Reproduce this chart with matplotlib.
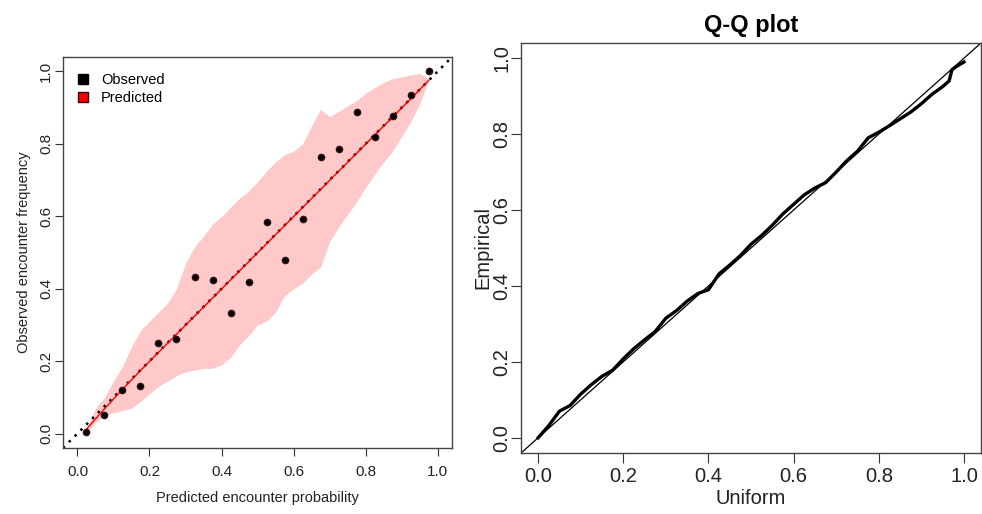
import numpy as np
import matplotlib
matplotlib.use("Agg")
import matplotlib.pyplot as plt
from matplotlib.lines import Line2D

plt.rcParams['font.family'] = ['Liberation Sans', 'DejaVu Sans']

# calibration: binned observed frequency vs predicted probability
bin_mid = [0.025, 0.075, 0.125, 0.175, 0.225, 0.275, 0.325, 0.375, 0.425, 0.475,
           0.525, 0.575, 0.625, 0.675, 0.725, 0.775, 0.825, 0.875, 0.925, 0.975]
observed = [0.003, 0.051, 0.120, 0.131, 0.250, 0.262, 0.432, 0.423, 0.333, 0.419,
            0.583, 0.480, 0.593, 0.763, 0.787, 0.888, 0.820, 0.876, 0.934, 1.000]
predicted = [0.012, 0.068, 0.122, 0.174, 0.224, 0.274, 0.324, 0.374, 0.424, 0.474,
             0.524, 0.574, 0.624, 0.674, 0.724, 0.774, 0.824, 0.874, 0.924, 0.975]

# simulated envelope of predicted frequencies
band_x = [0.025, 0.05, 0.075, 0.1, 0.125, 0.15, 0.175, 0.2, 0.225, 0.25,
          0.275, 0.3, 0.325, 0.35, 0.375, 0.4, 0.425, 0.45, 0.475, 0.5,
          0.525, 0.55, 0.575, 0.6, 0.625, 0.65, 0.675, 0.7, 0.725, 0.75,
          0.775, 0.8, 0.825, 0.85, 0.875, 0.9, 0.925, 0.95, 0.975]
band_hi = [0.012, 0.07, 0.10, 0.145, 0.185, 0.24, 0.285, 0.31, 0.335, 0.36,
           0.40, 0.47, 0.515, 0.545, 0.578, 0.60, 0.625, 0.65, 0.67, 0.695,
           0.725, 0.75, 0.77, 0.78, 0.80, 0.85, 0.895, 0.875, 0.89, 0.905,
           0.92, 0.94, 0.955, 0.97, 0.98, 0.985, 0.99, 0.995, 0.98]
band_lo = [0.0, 0.03, 0.05, 0.058, 0.063, 0.07, 0.088, 0.11, 0.13, 0.145,
           0.16, 0.17, 0.175, 0.18, 0.18, 0.19, 0.21, 0.245, 0.27, 0.30,
           0.31, 0.335, 0.38, 0.40, 0.415, 0.44, 0.46, 0.53, 0.57, 0.605,
           0.64, 0.68, 0.715, 0.75, 0.78, 0.82, 0.86, 0.91, 0.975]

# uniform Q-Q plot of residuals
qq_uniform = [0.0, 0.025, 0.05, 0.075, 0.1, 0.125, 0.15, 0.175, 0.2, 0.225,
              0.25, 0.275, 0.3, 0.325, 0.35, 0.375, 0.4, 0.425, 0.45, 0.475,
              0.5, 0.525, 0.55, 0.575, 0.6, 0.625, 0.65, 0.675, 0.7, 0.725,
              0.75, 0.775, 0.8, 0.825, 0.85, 0.875, 0.9, 0.925, 0.95, 0.965,
              0.972, 0.985, 1.0]
qq_empirical = [0.0, 0.032, 0.07, 0.085, 0.115, 0.14, 0.162, 0.178, 0.208, 0.235,
                0.258, 0.28, 0.315, 0.335, 0.36, 0.38, 0.39, 0.432, 0.455, 0.48,
                0.51, 0.533, 0.56, 0.59, 0.615, 0.64, 0.658, 0.672, 0.70, 0.73,
                0.755, 0.79, 0.805, 0.822, 0.84, 0.858, 0.88, 0.905, 0.925, 0.94,
                0.97, 0.98, 0.99]

ticks = [0.0, 0.2, 0.4, 0.6, 0.8, 1.0]
tick_labels = ["0.0", "0.2", "0.4", "0.6", "0.8", "1.0"]

fig = plt.figure(figsize=(9.82, 5.14), dpi=100)

# left panel
ax1 = fig.add_axes([0.0642, 0.1284, 0.3961, 0.7607])
ax1.fill_between(band_x, band_lo, band_hi, color="red", alpha=0.21, lw=0)
ax1.plot([-0.04, 1.04], [-0.04, 1.04], color="black", lw=1.8, ls=(0, (1, 2.3)))
ax1.plot(bin_mid, predicted, color="red", lw=1)
ax1.plot(bin_mid, observed, "o", color="black", ms=4.5, mec="#301010")
ax1.set_xlim(-0.04, 1.04)
ax1.set_ylim(-0.04, 1.04)
ax1.set_xticks(ticks)
ax1.set_xticklabels(tick_labels)
ax1.set_yticks(ticks)
ax1.set_yticklabels(tick_labels, rotation=90, va="center")
ax1.tick_params(labelsize=11, length=6, width=0.8, color="#333333", labelcolor="#222222")
ax1.tick_params(axis="x", pad=6)
ax1.tick_params(axis="y", pad=1)
ax1.set_xlabel("Predicted encounter probability", fontsize=10.5, color="#222222", labelpad=9)
ax1.set_ylabel("Observed encounter frequency", fontsize=10.5, color="#222222", labelpad=6)
for s in ax1.spines.values():
    s.set_color("#444444")
    s.set_linewidth(1)
handles = [Line2D([], [], marker="s", ls="none", color="black", ms=7),
           Line2D([], [], marker="s", ls="none", color="red", mec="#300000", ms=7)]
ax1.legend(handles, ["Observed", "Predicted"], loc="upper left", frameon=False,
           fontsize=10.5, handlelength=0.6, handletextpad=0.9,
           borderaxespad=0.7, labelspacing=0.3)

# right panel
ax2 = fig.add_axes([0.5306, 0.1187, 0.4684, 0.7977])
ax2.plot([-0.04, 1.04], [-0.04, 1.04], color="black", lw=0.9)
ax2.plot(qq_uniform, qq_empirical, color="black", lw=2.4)
ax2.set_xlim(-0.04, 1.04)
ax2.set_ylim(-0.04, 1.04)
ax2.set_xticks(ticks)
ax2.set_xticklabels(tick_labels)
ax2.set_yticks(ticks)
ax2.set_yticklabels(tick_labels, rotation=90, va="center")
ax2.tick_params(labelsize=14.5, length=7, width=0.8, color="#333333", labelcolor="#222222")
ax2.tick_params(axis="x", pad=3)
ax2.tick_params(axis="y", pad=0)
ax2.set_xlabel("Uniform", fontsize=14.5, color="#222222", labelpad=2)
ax2.set_ylabel("Empirical", fontsize=14.5, color="#222222", labelpad=0)
ax2.set_title("Q-Q plot", fontsize=17, fontweight="bold", pad=8)
for s in ax2.spines.values():
    s.set_color("#444444")
    s.set_linewidth(1)

fig.savefig("out.png", dpi=100)
